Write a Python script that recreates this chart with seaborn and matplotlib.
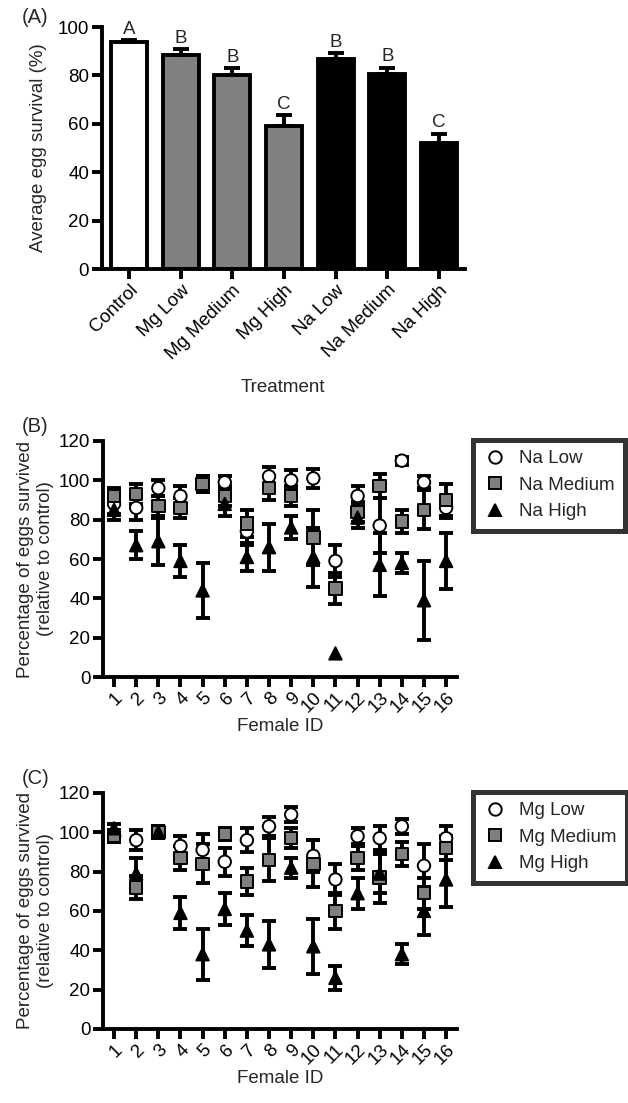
import numpy as np
import pandas as pd
import matplotlib
matplotlib.use('Agg')
import matplotlib.pyplot as plt
import seaborn as sns

sns.set_theme(style='ticks')
plt.rcParams['font.family'] = ['Liberation Sans', 'DejaVu Sans']

# panel A
treatments = ['Control', 'Mg Low', 'Mg Medium', 'Mg High', 'Na Low', 'Na Medium', 'Na High']
survival = [94.0, 88.3, 80.0, 59.0, 86.9, 80.4, 52.3]
survival_err = [0.6, 2.6, 2.9, 4.6, 2.4, 2.8, 3.7]
letters = ['A', 'B', 'B', 'C', 'B', 'B', 'C']
bar_colors = ['white', '#808080', '#808080', '#808080', 'black', 'black', 'black']

# panel B / C
females = list(range(1, 17))

na_low = [88, 86, 96, 92, 98, 99, 74, 102, 100, 101, 59, 92, 77, 110, 99, 86]
na_low_err = [5, 6, 4, 5, 4, 3, 7, 5, 5, 5, 8, 5, 14, 2, 3, 5]
na_med = [92, 93, 87, 86, 98, 92, 78, 96, 92, 71, 45, 84, 97, 79, 85, 90]
na_med_err = [4, 5, 5, 5, 4, 5, 7, 6, 5, 14, 8, 5, 6, 6, 10, 8]
na_high = [85, 67, 69, 59, 44, 88, 61, 66, 76, 61, 12, 81, 57, 58, 39, 59]
na_high_err = [5, 7, 12, 8, 14, 6, 7, 12, 6, 15, np.nan, 5, 16, 5, 20, 14]

mg_low = [98, 96, 100, 93, 91, 85, 96, 103, 109, 88, 76, 98, 97, 103, 83, 97]
mg_low_err = [3, 5, 3, 5, 8, 7, 6, 5, 4, 8, 8, 4, 6, 4, 11, 6]
mg_med = [98, 72, 100, 87, 84, 99, 75, 86, 97, 84, 60, 87, 77, 89, 69, 92]
mg_med_err = [3, 6, 3, 6, 10, 3, 7, 11, 5, 12, 9, 6, 13, 6, 8, 6]
mg_high = [102, 79, 100, 59, 38, 61, 50, 43, 82, 42, 26, 69, 79, 38, 60, 76]
mg_high_err = [2, 8, 3, 8, 13, 8, 8, 12, 5, 14, 6, 8, 10, 5, 12, 14]

FS = 13.5
LW = 2.8

fig = plt.figure(figsize=(6.28, 11.03), dpi=100)
axA = fig.add_axes([0.162, 0.756, 0.578, 0.2195])
axB = fig.add_axes([0.164, 0.3862, 0.564, 0.214])
axC = fig.add_axes([0.164, 0.0671, 0.564, 0.214])


def style_axis(ax):
    sns.despine(ax=ax)
    for s in ['left', 'bottom']:
        ax.spines[s].set_linewidth(LW)
        ax.spines[s].set_color('black')
    ax.tick_params(width=LW, length=7, labelsize=FS, color='black', labelcolor='black', pad=2)


# (A) bar chart
dfA = pd.DataFrame({'treatment': treatments, 'survival': survival})
sns.barplot(data=dfA, x='treatment', y='survival', hue='treatment', palette=bar_colors,
            edgecolor='black', linewidth=LW, width=0.7, errorbar=None, legend=False, ax=axA)
xa = np.arange(len(treatments))
axA.errorbar(xa, survival, yerr=[np.zeros(len(xa)), survival_err], fmt='none',
             ecolor='black', elinewidth=LW, capsize=5.5, capthick=LW, zorder=1)
for i in range(len(treatments)):
    axA.text(i, survival[i] + survival_err[i] + 1.0, letters[i], ha='center', va='bottom', fontsize=FS)
axA.set_xlim(-0.53, 6.5)
axA.set_ylim(0, 100)
axA.set_yticks([0, 20, 40, 60, 80, 100])
axA.set_xlabel('Treatment', fontsize=FS, labelpad=12)
axA.set_ylabel('Average egg survival (%)', fontsize=FS, labelpad=8)
style_axis(axA)
axA.set_xticks(xa)
axA.set_xticklabels(treatments, rotation=45, ha='right', rotation_mode='anchor')
fig.text(0.035, 0.993, '(A)', fontsize=FS + 1, va='top')

markers = {'Low': 'o', 'Medium': 's', 'High': '^'}
fills = {'Low': 'white', 'Medium': '#808080', 'High': 'black'}


def scatter_panel(ax, ion, series, errs, label):
    levels = ['Low', 'Medium', 'High']
    rows = []
    for lev, vals in zip(levels, series):
        for f, v in zip(females, vals):
            rows.append({'female': f, 'value': v, 'group': f'{ion} {lev}'})
    df = pd.DataFrame(rows)
    for vals, e in zip(series, errs):
        ax.errorbar(females, vals, yerr=e, fmt='none', ecolor='black',
                    elinewidth=LW, capsize=5, capthick=LW, zorder=2)
    sns.scatterplot(data=df, x='female', y='value', hue='group', style='group',
                    palette={f'{ion} {l}': fills[l] for l in levels},
                    markers={f'{ion} {l}': markers[l] for l in levels},
                    s=80, edgecolor='black', linewidth=1.4, zorder=3, ax=ax)
    ax.set_xlim(0.5, 16.5)
    ax.set_ylim(0, 120)
    ax.set_yticks(range(0, 121, 20))
    ax.set_xticks(females)
    style_axis(ax)
    ax.set_xticklabels([str(f) for f in females], rotation=45, ha='right', rotation_mode='anchor')
    ax.set_xlabel('Female ID', fontsize=FS, labelpad=1)
    ax.set_ylabel('Percentage of eggs survived\n(relative to control)', fontsize=FS, labelpad=4)
    h, l = ax.get_legend_handles_labels()
    leg = ax.legend(h, l, loc='upper left', bbox_to_anchor=(1.045, 1.005), fontsize=FS,
                    frameon=True, fancybox=False, edgecolor='black', labelspacing=0.5,
                    handletextpad=0.7, borderpad=0.55, handlelength=1.2, borderaxespad=0)
    leg.get_frame().set_linewidth(LW + 0.8)
    fig.text(0.035, ax.get_position().y1 + 0.022, label, fontsize=FS + 1, va='top')


scatter_panel(axB, 'Na', [na_low, na_med, na_high], [na_low_err, na_med_err, na_high_err], '(B)')
scatter_panel(axC, 'Mg', [mg_low, mg_med, mg_high], [mg_low_err, mg_med_err, mg_high_err], '(C)')

fig.savefig('out.png', dpi=100)
